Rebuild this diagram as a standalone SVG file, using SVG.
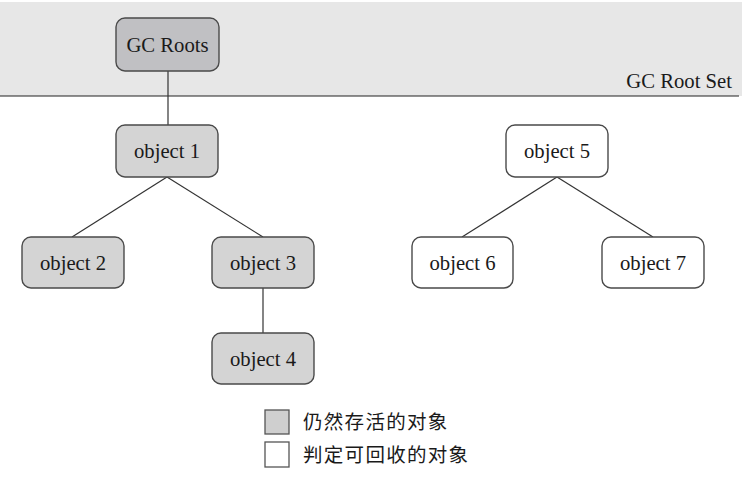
<svg xmlns="http://www.w3.org/2000/svg" width="749" height="498" viewBox="0 0 749 498">
<style>
.box{stroke:#4a4a4a;stroke-width:1.4}
.live{fill:#d4d4d4}
.root{fill:#c0c0c3}
.dead{fill:#ffffff}
.t{font-family:"Liberation Serif","Times New Roman",serif;font-size:20.7px;fill:#1a1a1a;text-anchor:middle}
.c{stroke:#333;stroke-width:1.2;fill:none}
.cjk{font-family:"Noto Sans CJK SC","Noto Sans CJK JP",sans-serif;font-size:19.5px;letter-spacing:1.3px;fill:#1a1a1a}
</style>
<rect x="0" y="2" width="742" height="94" fill="#e7e7e7"/>
<line x1="0" y1="96" x2="739" y2="96" stroke="#222" stroke-width="1.2"/>
<text x="732" y="88" class="t" style="text-anchor:end">GC Root Set</text>
<g id="connectors">
<line class="c" x1="168" y1="71" x2="168" y2="125"/>
<line class="c" x1="167" y1="177" x2="72" y2="237"/>
<line class="c" x1="167" y1="177" x2="263" y2="237"/>
<line class="c" x1="263" y1="288" x2="263" y2="333"/>
<line class="c" x1="557" y1="177" x2="462" y2="237"/>
<line class="c" x1="557" y1="177" x2="653" y2="237"/>
</g>
<g id="gcroots"><rect class="box root" x="116" y="18" width="103" height="53" rx="9"/><text class="t" x="167.5" y="52">GC Roots</text></g>
<g id="object1"><rect class="box live" x="116" y="125" width="102" height="52" rx="9"/><text class="t" x="167" y="158">object 1</text></g>
<g id="object2"><rect class="box live" x="22" y="237" width="102" height="51" rx="9"/><text class="t" x="73" y="270">object 2</text></g>
<g id="object3"><rect class="box live" x="212" y="237" width="102" height="51" rx="9"/><text class="t" x="263" y="270">object 3</text></g>
<g id="object4"><rect class="box live" x="212" y="333" width="102" height="51" rx="9"/><text class="t" x="263" y="366">object 4</text></g>
<g id="object5"><rect class="box dead" x="506" y="125" width="102" height="52" rx="9"/><text class="t" x="557" y="158">object 5</text></g>
<g id="object6"><rect class="box dead" x="412" y="237" width="101" height="51" rx="9"/><text class="t" x="462.5" y="270">object 6</text></g>
<g id="object7"><rect class="box dead" x="602" y="237" width="102" height="51" rx="9"/><text class="t" x="653" y="270">object 7</text></g>
<g id="legend">
<rect x="265" y="410" width="24" height="24" fill="#cfcfcf" stroke="#555" stroke-width="1.3"/>
<text class="cjk" x="303" y="429">仍然存活的对象</text>
<rect x="265" y="442" width="24" height="25" fill="#fff" stroke="#555" stroke-width="1.3"/>
<text class="cjk" x="303" y="462">判定可回收的对象</text>
</g>
</svg>
